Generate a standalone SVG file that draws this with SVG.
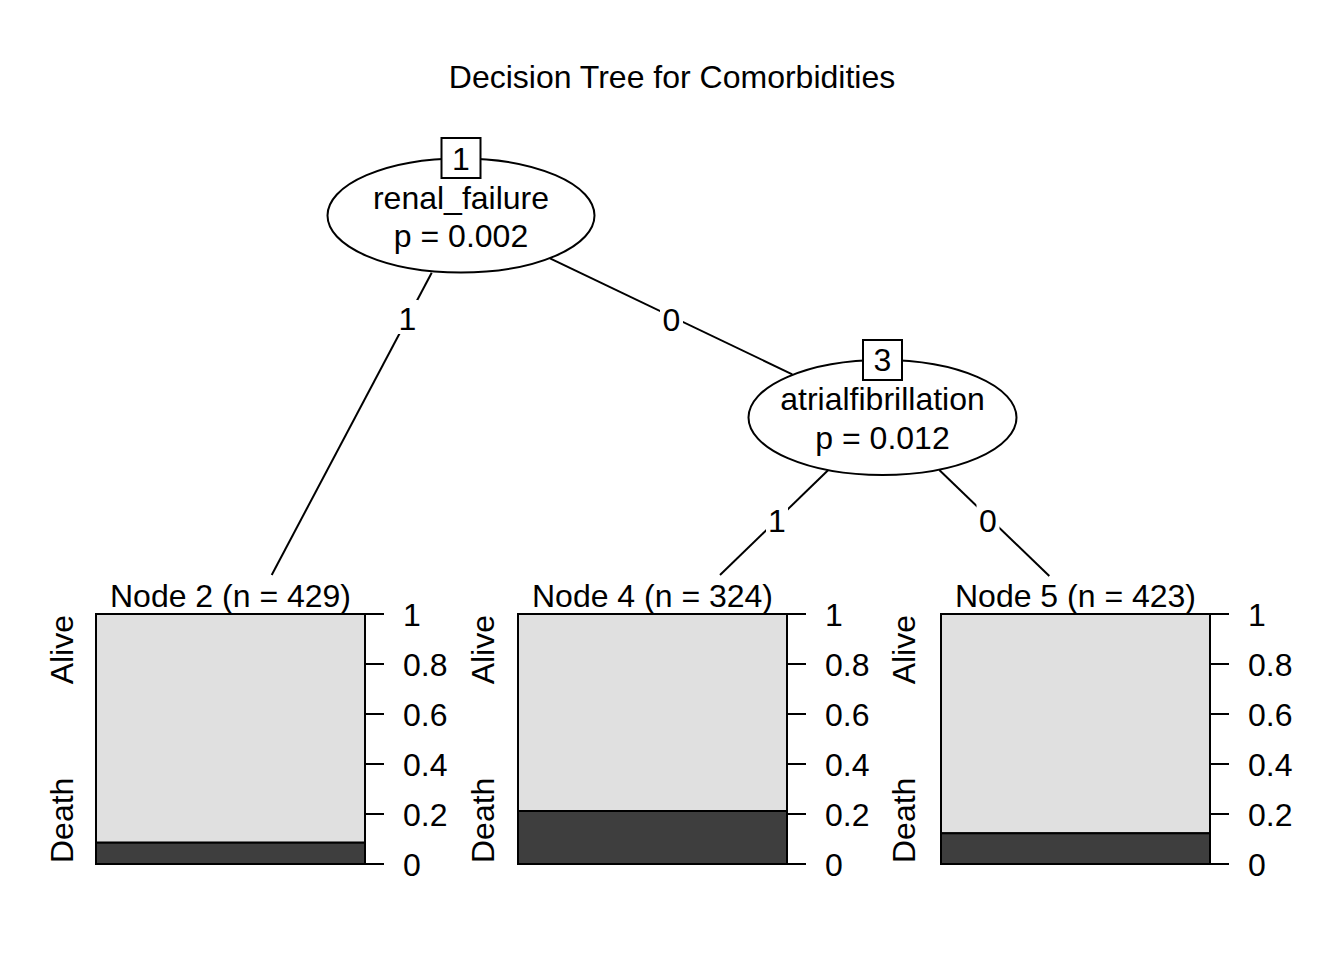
<svg xmlns="http://www.w3.org/2000/svg" width="1344" height="960" viewBox="0 0 1344 960">
<style>
text{font-family:"Liberation Sans",Arial,Helvetica,sans-serif;font-size:32px;fill:#000}
.c{text-anchor:middle}
.ln{stroke:#000;stroke-width:2;fill:none}
.ell{fill:#fff;stroke:#000;stroke-width:2}
.box{fill:#fff;stroke:#000;stroke-width:2}
.lb{fill:#fff;stroke:none}
.light{fill:#e0e0e0;stroke:#000;stroke-width:2}
.dark{fill:#3e3e3e;stroke:#000;stroke-width:2}
.tk{stroke:#000;stroke-width:2}
</style>
<rect x="0" y="0" width="1344" height="960" fill="#fff"/>
<text class="c" x="672" y="88">Decision Tree for Comorbidities</text>

<g id="connectors">
  <line class="ln" x1="431.7" y1="272.7" x2="271.7" y2="575"/>
  <line class="ln" x1="550" y1="258.3" x2="792.3" y2="374.3"/>
  <line class="ln" x1="828.3" y1="470" x2="720" y2="575"/>
  <line class="ln" x1="939.3" y1="470" x2="1049.3" y2="576"/>
  <rect class="lb" x="396.5" y="300" width="22" height="34"/>
  <text class="c" x="407.5" y="329.5">1</text>
  <rect class="lb" x="660" y="302" width="23" height="34"/>
  <text class="c" x="671.5" y="330.5">0</text>
  <rect class="lb" x="766" y="503" width="22" height="34"/>
  <text class="c" x="777" y="531.5">1</text>
  <rect class="lb" x="976.5" y="503" width="23" height="34"/>
  <text class="c" x="988" y="531.5">0</text>
</g>

<g id="node1">
  <ellipse class="ell" cx="461" cy="215.5" rx="133.5" ry="57"/>
  <rect class="box" x="441.5" y="138" width="39" height="40"/>
  <text class="c" x="461" y="170">1</text>
  <text class="c" x="461" y="208.5">renal_failure</text>
  <text class="c" x="461" y="247">p = 0.002</text>
</g>

<g id="node3">
  <ellipse class="ell" cx="882.5" cy="417.5" rx="134" ry="57.5"/>
  <rect class="box" x="863" y="340" width="39" height="40"/>
  <text class="c" x="882.5" y="371">3</text>
  <text class="c" x="882.5" y="410">atrialfibrillation</text>
  <text class="c" x="882.5" y="449">p = 0.012</text>
</g>

<g id="node2">
  <text class="c" x="230.5" y="607">Node 2 (n = 429)</text>
  <rect class="light" x="96" y="614" width="269" height="228.7"/>
  <rect class="dark" x="96" y="842.7" width="269" height="21.3"/>
  <g class="tk">
    <line x1="365" y1="614" x2="384" y2="614"/>
    <line x1="365" y1="664" x2="384" y2="664"/>
    <line x1="365" y1="714" x2="384" y2="714"/>
    <line x1="365" y1="764" x2="384" y2="764"/>
    <line x1="365" y1="814" x2="384" y2="814"/>
    <line x1="365" y1="864" x2="384" y2="864"/>
  </g>
  <text x="403" y="625.5">1</text>
  <text x="403" y="675.5">0.8</text>
  <text x="403" y="725.5">0.6</text>
  <text x="403" y="775.5">0.4</text>
  <text x="403" y="825.5">0.2</text>
  <text x="403" y="875.5">0</text>
  <text transform="translate(72.5,615) rotate(-90)" text-anchor="end">Alive</text>
  <text transform="translate(72.5,863) rotate(-90)" text-anchor="start">Death</text>
</g>

<g id="node4">
  <text class="c" x="652.5" y="607">Node 4 (n = 324)</text>
  <rect class="light" x="518" y="614" width="269" height="197"/>
  <rect class="dark" x="518" y="811" width="269" height="53"/>
  <g class="tk">
    <line x1="787" y1="614" x2="806" y2="614"/>
    <line x1="787" y1="664" x2="806" y2="664"/>
    <line x1="787" y1="714" x2="806" y2="714"/>
    <line x1="787" y1="764" x2="806" y2="764"/>
    <line x1="787" y1="814" x2="806" y2="814"/>
    <line x1="787" y1="864" x2="806" y2="864"/>
  </g>
  <text x="825" y="625.5">1</text>
  <text x="825" y="675.5">0.8</text>
  <text x="825" y="725.5">0.6</text>
  <text x="825" y="775.5">0.4</text>
  <text x="825" y="825.5">0.2</text>
  <text x="825" y="875.5">0</text>
  <text transform="translate(494,615) rotate(-90)" text-anchor="end">Alive</text>
  <text transform="translate(494,863) rotate(-90)" text-anchor="start">Death</text>
</g>

<g id="node5">
  <text class="c" x="1075.5" y="607">Node 5 (n = 423)</text>
  <rect class="light" x="941" y="614" width="269" height="219.3"/>
  <rect class="dark" x="941" y="833.3" width="269" height="30.7"/>
  <g class="tk">
    <line x1="1210" y1="614" x2="1229" y2="614"/>
    <line x1="1210" y1="664" x2="1229" y2="664"/>
    <line x1="1210" y1="714" x2="1229" y2="714"/>
    <line x1="1210" y1="764" x2="1229" y2="764"/>
    <line x1="1210" y1="814" x2="1229" y2="814"/>
    <line x1="1210" y1="864" x2="1229" y2="864"/>
  </g>
  <text x="1248" y="625.5">1</text>
  <text x="1248" y="675.5">0.8</text>
  <text x="1248" y="725.5">0.6</text>
  <text x="1248" y="775.5">0.4</text>
  <text x="1248" y="825.5">0.2</text>
  <text x="1248" y="875.5">0</text>
  <text transform="translate(915,615) rotate(-90)" text-anchor="end">Alive</text>
  <text transform="translate(915,863) rotate(-90)" text-anchor="start">Death</text>
</g>
</svg>
